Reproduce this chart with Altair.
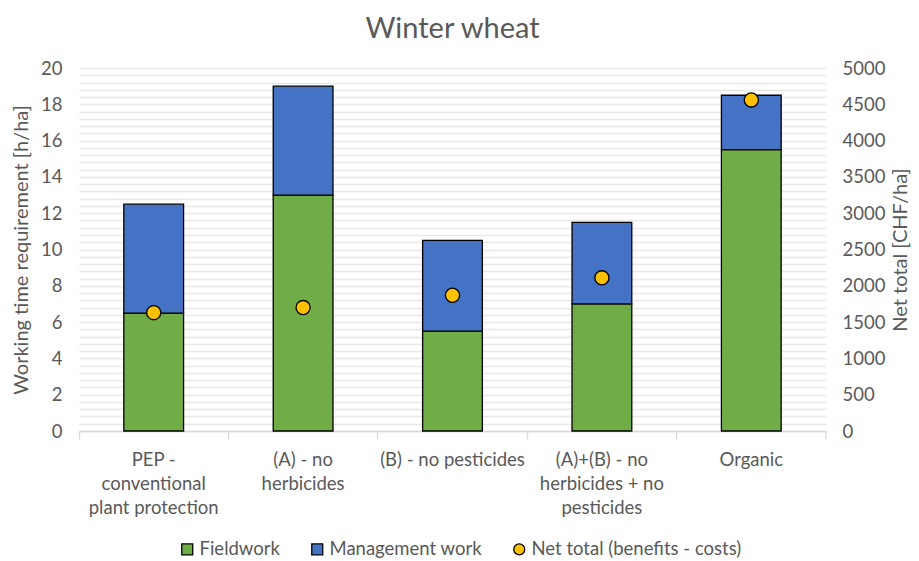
import altair as alt
import pandas as pd

categories = [
    "PEP -|conventional|plant protection",
    "(A) - no|herbicides",
    "(B) - no pesticides",
    "(A)+(B) - no|herbicides + no|pesticides",
    "Organic",
]
fieldwork = [6.5, 13.0, 5.5, 7.0, 15.5]
management = [6.0, 6.0, 5.0, 4.5, 3.0]
net_total = [1630, 1700, 1870, 2110, 4560]

series = ["Fieldwork", "Management work", "Net total (benefits - costs)"]
colors = ["#70ad47", "#4472c4", "#ffc000"]
shapes = ["square", "square", "circle"]
outline = ["black", "black", "black"]

rows = []
for c, f, m in zip(categories, fieldwork, management):
    rows.append({"category": c, "series": series[0], "value": f, "ord": 0})
    rows.append({"category": c, "series": series[1], "value": m, "ord": 1})
bars_df = pd.DataFrame(rows)
pts_df = pd.DataFrame({"category": categories, "net": net_total, "series": series[2]})

FONT = "Lato"
GREY = "#595959"
W, H = 747, 363

fill_scale = alt.Scale(domain=series, range=colors)
shape_scale = alt.Scale(domain=series, range=shapes)
stroke_scale = alt.Scale(domain=series, range=outline)
legend = alt.Legend(
    title=None, orient="none", direction="horizontal", legendX=99, legendY=472,
    labelFontSize=18.5, labelColor=GREY, labelFont=FONT, labelLimit=400,
    symbolSize=120, symbolStrokeColor="black", symbolStrokeWidth=1.3,
    symbolOpacity=1, columnPadding=28, labelOffset=3,
)

x_enc = alt.X(
    "category:N", sort=categories,
    scale=alt.Scale(paddingInner=0, paddingOuter=0),
    axis=alt.Axis(
        title=None, labelAngle=0, bandPosition=0, ticks=True, tickSize=8,
        tickColor="#d9d9d9", domainColor="#d9d9d9", domainWidth=1.3, tickWidth=1.3,
        labelExpr="split(datum.label, '|')", labelPadding=11, labelLineHeight=24,
        labelFontSize=18.5, labelColor=GREY, labelFont=FONT, labelBaseline="top",
        grid=False, labelLimit=200,
    ),
)

bars = alt.Chart(bars_df).mark_bar(
    width=alt.RelativeBandSize(0.4), strokeWidth=1.3
).encode(
    x=x_enc,
    y=alt.Y(
        "sum(value):Q", scale=alt.Scale(domain=[0, 20], nice=False),
        axis=alt.Axis(
            title="Working time requirement [h/ha]", values=list(range(0, 21, 2)),
            grid=False, ticks=False, domain=False, labelFontSize=18.5, labelColor=GREY,
            labelFont=FONT, labelPadding=17, titleFontSize=20, titleColor=GREY,
            titleFont=FONT, titleFontWeight="normal", titlePadding=9,
        ),
    ),
    fill=alt.Fill("series:N", scale=fill_scale, legend=legend),
    stroke=alt.Stroke("series:N", scale=stroke_scale, legend=legend),
    order=alt.Order("ord:Q"),
)

pts = alt.Chart(pts_df).mark_point(
    size=200, strokeWidth=1.3, opacity=1, filled=True
).encode(
    x=alt.X("category:N", sort=categories),
    y=alt.Y(
        "net:Q", scale=alt.Scale(domain=[0, 5000], nice=False),
        axis=alt.Axis(
            orient="right", title="Net total [CHF/ha]", values=list(range(0, 5001, 100)),
            labelExpr="datum.value % 500 == 0 ? datum.label : ''", format="d",
            grid=True, gridColor="#e8e8e8", gridWidth=1.5, ticks=False, domain=False,
            labelFontSize=18.5, labelColor=GREY, labelFont=FONT, labelPadding=16,
            titleFontSize=20, titleColor=GREY, titleFont=FONT, titleFontWeight="normal",
            titlePadding=6, titleAngle=270, titleBaseline="top",
        ),
    ),
    fill=alt.Fill("series:N", scale=fill_scale, legend=legend),
    shape=alt.Shape("series:N", scale=shape_scale, legend=legend),
    stroke=alt.Stroke("series:N", scale=stroke_scale, legend=legend),
)

edge_tick = alt.Chart(pd.DataFrame({"k": [0]})).mark_rule(
    color="#d9d9d9", strokeWidth=1.3
).encode(x=alt.value(W), y=alt.value(H), y2=alt.value(H + 8))

chart = alt.layer(bars, pts, edge_tick).resolve_scale(y="independent").properties(
    width=W, height=H,
    title=alt.TitleParams("Winter wheat", fontSize=29, color=GREY, font=FONT,
                          fontWeight="normal", offset=15),
    padding={"left": 3, "top": 7, "right": 0, "bottom": 0},
).configure_view(stroke=None)

chart.save("out.html", embed_options={"renderer": "svg", "actions": False})
